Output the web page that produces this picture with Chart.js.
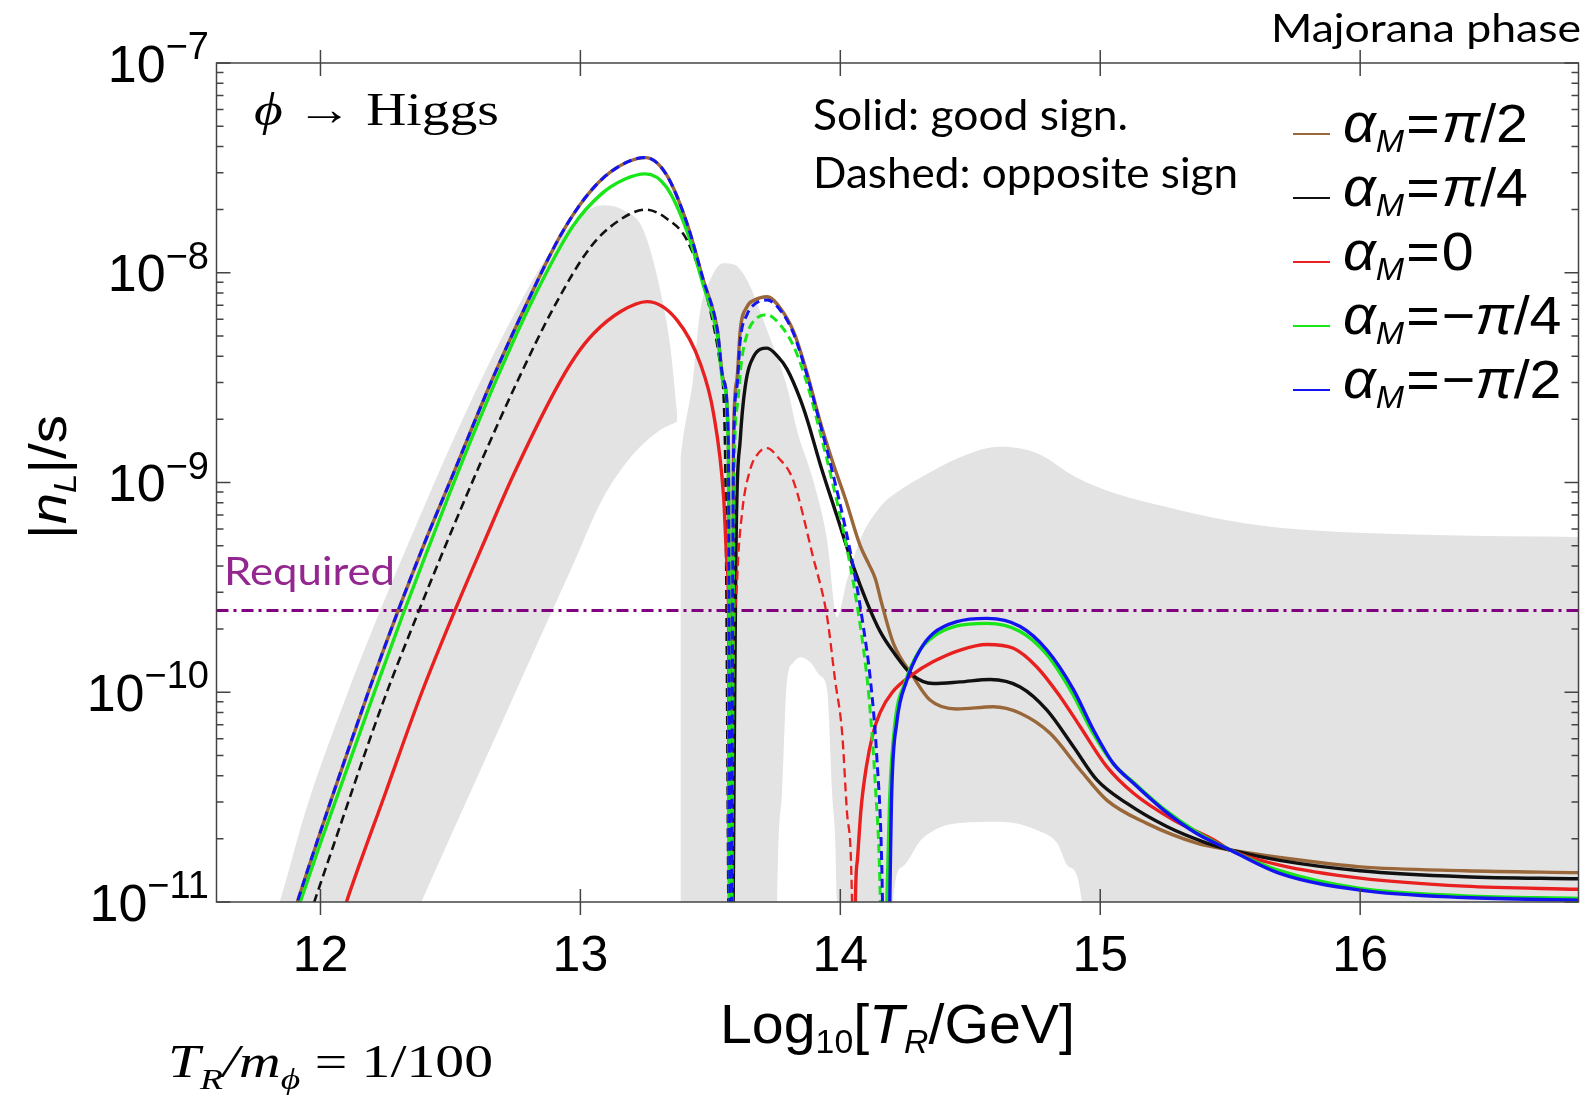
<!DOCTYPE html>
<html>
<head>
<meta charset="utf-8">
<title>|n_L|/s vs Log10[T_R/GeV]</title>
<script src="https://cdn.jsdelivr.net/npm/chart.js@4.4.1/dist/chart.umd.min.js"></script>
<style>
  html, body { margin: 0; padding: 0; background: #fff; }
  #wrap { position: relative; width: 1594px; height: 1095px; }
</style>
</head>
<body>
<div id="wrap"><canvas id="chart" width="1594" height="1095"></canvas></div>
<script>
// x = Log10[T_R/GeV], y = |n_L|/s
// negative value = opposite sign (dashed), positive = good sign (solid), 0 = zero crossing
const xTicks = [12, 13, 14, 15, 16];
const yTicks = [1e-11, 1e-10, 1e-9, 1e-8, 1e-7];
const requiredLevel = 2.45e-10;

const legendLabels = ['π/2', 'π/4', '0', '−π/4', '−π/2'];

// alpha_M = pi/2
const brownX = [11.88, 11.95, 12.05, 12.19, 12.30, 12.40, 12.50, 12.66, 12.80, 12.92,
  13.02, 13.12, 13.25, 13.33, 13.41, 13.473, 13.527, 13.55, 13.569, 13.578,
  13.589, 13.602, 13.615, 13.641, 13.67, 13.718, 13.77, 13.82, 13.87, 13.92,
  13.97, 14.02, 14.076, 14.11, 14.135, 14.16, 14.205, 14.276, 14.345, 14.448,
  14.589, 14.692, 14.807, 14.923, 15.025, 15.179, 15.371, 15.50, 15.69, 16.0,
  16.4, 16.84];
const brownY = [7.6e-12, 1.41e-11, 3.31e-11, 1.05e-10, 2.47e-10, 5.13e-10, 1.02e-9, 3.08e-9, 7.41e-9, 1.48e-8,
  2.29e-8, 3.05e-8, 3.54e-8, 2.95e-8, 1.72e-8, 9.23e-9, 5.33e-9, 3.08e-9, 1.60e-9, 0,
  1.60e-9, 3.08e-9, 5.33e-9, 6.89e-9, 7.41e-9, 7.69e-9, 6.76e-9, 5.25e-9, 3.39e-9, 2.0e-9,
  1.26e-9, 8.32e-10, 5.01e-10, 4.07e-10, 3.47e-10, 2.63e-10, 1.70e-10, 1.21e-10, 9.18e-11, 8.32e-11,
  8.53e-11, 7.94e-11, 6.37e-11, 4.26e-11, 3.06e-11, 2.37e-11, 1.91e-11, 1.77e-11, 1.63e-11, 1.47e-11,
  1.41e-11, 1.38e-11];

// alpha_M = pi/4
const blackX = [11.94, 11.976, 12.05, 12.24, 12.38, 12.49, 12.622, 12.76, 12.90, 13.04,
  13.15, 13.25, 13.33, 13.41, 13.487, 13.537, 13.556, 13.578, 13.60, 13.615,
  13.634, 13.666, 13.718, 13.76, 13.795, 13.845, 13.875, 13.922, 13.987, 14.05,
  14.102, 14.153, 14.205, 14.276, 14.358, 14.461, 14.576, 14.692, 14.795, 14.897,
  14.987, 15.103, 15.256, 15.41, 15.50, 15.69, 16.0, 16.4, 16.84];
const blackY = [-7.4e-12, -1.0e-11, -1.86e-11, -8.9e-11, -2.47e-10, -5.32e-10, -1.29e-9, -3.08e-9, -6.92e-9, -1.33e-8,
  -1.78e-8, -2.0e-8, -1.82e-8, -1.43e-8, -7.66e-9, -3.72e-9, -1.6e-9, 0, 6.3e-10, 1.6e-9,
  2.86e-9, 3.98e-9, 4.37e-9, 3.98e-9, 3.47e-9, 2.51e-9, 1.95e-9, 1.23e-9, 6.92e-10, 3.98e-10,
  2.69e-10, 1.95e-10, 1.55e-10, 1.21e-10, 1.10e-10, 1.12e-10, 1.15e-10, 1.06e-10, 8.22e-11, 5.5e-11,
  3.82e-11, 2.95e-11, 2.29e-11, 1.91e-11, 1.77e-11, 1.58e-11, 1.41e-11, 1.32e-11, 1.29e-11];

// alpha_M = 0
const redX = [12.07, 12.10, 12.25, 12.39, 12.518, 12.633, 12.74, 12.903, 12.98, 13.051,
  13.155, 13.256, 13.371, 13.461, 13.512, 13.551, 13.564, 13.57, 13.576, 13.584,
  13.603, 13.622, 13.653, 13.685, 13.718, 13.76, 13.818, 13.895, 13.949, 13.98,
  14.007, 14.026, 14.045, 14.052, 14.058, 14.066, 14.08, 14.10, 14.125, 14.153,
  14.20, 14.276, 14.358, 14.461, 14.564, 14.666, 14.756, 14.846, 14.923, 15.025,
  15.128, 15.282, 15.436, 15.50, 15.69, 16.0, 16.4, 16.84];
const redY = [7.6e-12, 1.0e-11, 3.31e-11, 1.0e-10, 2.47e-10, 5.32e-10, 1.07e-9, 2.75e-9, 3.98e-9, 5.13e-9,
  6.53e-9, 7.28e-9, 5.96e-9, 3.70e-9, 2.14e-9, 8.57e-10, 4.12e-10, 2.47e-10, 0, -5.0e-11,
  -3.43e-10, -7.16e-10, -1.15e-9, -1.38e-9, -1.46e-9, -1.32e-9, -1.03e-9, -4.42e-10, -2.29e-10, -1.14e-10,
  -6.4e-11, -2.65e-11, -1.0e-11, 0, 1.0e-11, 1.6e-11, 2.8e-11, 4.4e-11, 6.3e-11, 8.0e-11,
  1.0e-10, 1.21e-10, 1.40e-10, 1.59e-10, 1.69e-10, 1.62e-10, 1.32e-10, 9.53e-11, 6.85e-11, 4.42e-11,
  3.30e-11, 2.46e-11, 1.98e-11, 1.77e-11, 1.50e-11, 1.30e-11, 1.19e-11, 1.15e-11];

// alpha_M = -pi/4
const greenX = [11.90, 11.922, 12.0, 12.21, 12.32, 12.43, 12.52, 12.68, 12.82, 12.97,
  13.08, 13.17, 13.25, 13.33, 13.41, 13.473, 13.527, 13.55, 13.569, 13.578,
  13.592, 13.605, 13.62, 13.645, 13.675, 13.718, 13.77, 13.82, 13.87, 13.92,
  13.97, 14.02, 14.06, 14.09, 14.11, 14.135, 14.153, 14.166, 14.179, 14.19,
  14.21, 14.25, 14.30, 14.358, 14.448, 14.564, 14.692, 14.795, 14.89, 14.97,
  15.05, 15.128, 15.243, 15.371, 15.50, 15.69, 16.0, 16.4, 16.84];
const greenY = [8.3e-12, 1.0e-11, 1.91e-11, 1.02e-10, 2.40e-10, 5.43e-10, 1.05e-9, 3.16e-9, 7.59e-9, 1.66e-8,
  2.37e-8, 2.79e-8, 2.96e-8, 2.57e-8, 1.58e-8, 8.71e-9, 5.01e-9, 2.95e-9, 1.58e-9, 0,
  -1.12e-9, -2.40e-9, -3.80e-9, -5.25e-9, -6.03e-9, -6.30e-9, -5.62e-9, -4.47e-9, -3.02e-9, -1.78e-9,
  -1.0e-9, -5.25e-10, -2.82e-10, -1.58e-10, -9.55e-11, -3.55e-11, -1.12e-11, 0, 1.0e-11, 3.16e-11,
  7.08e-11, 1.12e-10, 1.55e-10, 1.84e-10, 2.07e-10, 2.13e-10, 1.95e-10, 1.51e-10, 1.0e-10, 6.46e-11,
  4.57e-11, 3.72e-11, 2.79e-11, 2.16e-11, 1.77e-11, 1.41e-11, 1.16e-11, 1.07e-11, 1.04e-11];

// alpha_M = -pi/2
const blueX = [11.88, 11.95, 12.05, 12.19, 12.30, 12.40, 12.50, 12.66, 12.80, 12.92,
  13.02, 13.12, 13.25, 13.33, 13.41, 13.473, 13.527, 13.55, 13.569, 13.578,
  13.589, 13.602, 13.615, 13.641, 13.67, 13.718, 13.77, 13.82, 13.87, 13.92,
  13.97, 14.02, 14.06, 14.09, 14.115, 14.14, 14.16, 14.175, 14.198, 14.217,
  14.256, 14.307, 14.358, 14.448, 14.564, 14.692, 14.795, 14.897, 14.974, 15.05,
  15.128, 15.243, 15.371, 15.50, 15.69, 16.0, 16.4, 16.84];
const blueY = [-7.6e-12, -1.41e-11, -3.31e-11, -1.05e-10, -2.47e-10, -5.13e-10, -1.02e-9, -3.08e-9, -7.41e-9, -1.48e-8,
  -2.29e-8, -3.05e-8, -3.54e-8, -2.95e-8, -1.72e-8, -9.23e-9, -5.33e-9, -3.08e-9, -1.60e-9, 0,
  -1.41e-9, -2.82e-9, -4.79e-9, -6.31e-9, -7.08e-9, -7.41e-9, -6.61e-9, -5.13e-9, -3.31e-9, -1.95e-9,
  -1.12e-9, -6.03e-10, -3.39e-10, -2.0e-10, -1.17e-10, -5.0e-11, -1.41e-11, 0, 3.42e-11, 7.13e-11,
  1.14e-10, 1.59e-10, 1.91e-10, 2.17e-10, 2.25e-10, 2.06e-10, 1.59e-10, 1.03e-10, 6.61e-11, 4.58e-11,
  3.68e-11, 2.75e-11, 2.12e-11, 1.77e-11, 1.37e-11, 1.14e-11, 1.05e-11, 1.02e-11];

// grey band, left lobe
const bandAUpperX = [11.80, 11.843, 11.947, 12.093, 12.243, 12.345, 12.499, 12.626, 12.757, 12.884,
  13.011, 13.088, 13.165, 13.242, 13.307, 13.346, 13.372];
const bandAUpperY = [7e-12, 1.0e-11, 2.82e-11, 9.12e-11, 2.69e-10, 5.37e-10, 1.48e-9, 3.24e-9, 6.76e-9, 1.26e-8,
  1.91e-8, 2.10e-8, 1.99e-8, 1.60e-8, 8.28e-9, 4.43e-9, 2.14e-9];
const bandALowerX = [11.80, 12.24, 12.388, 12.534, 12.680, 12.830, 12.976, 13.076, 13.180, 13.307, 13.372];
const bandALowerY = [1e-12, 4e-12, 1.0e-11, 2.54e-11, 6.4e-11, 1.66e-10, 4.17e-10, 7.94e-10, 1.26e-9, 1.78e-9, 1.95e-9];

// grey band, right part
const bandBUpperX = [13.385, 13.394, 13.433, 13.46, 13.499, 13.549, 13.595, 13.641, 13.718, 13.795,
  13.833, 13.895, 13.949, 13.987, 14.026, 14.076, 14.153, 14.230, 14.311, 14.461,
  14.611, 14.757, 14.907, 15.053, 15.303, 15.549, 15.795, 16.291, 16.84];
const bandBUpperY = [1.3e-9, 1.6e-9, 3.08e-9, 6.43e-9, 9.23e-9, 1.11e-8, 1.09e-8, 9.23e-9, 5.33e-9, 2.85e-9,
  1.78e-9, 1.03e-9, 5.32e-10, 2.28e-10, 3.43e-10, 5.32e-10, 7.64e-10, 9.2e-10, 1.06e-9, 1.32e-9,
  1.48e-9, 1.38e-9, 1.06e-9, 8.9e-10, 7.4e-10, 6.41e-10, 5.94e-10, 5.62e-10, 5.50e-10];
const bandBLowerX = [13.385, 13.75, 13.757, 13.776, 13.795, 13.818, 13.845, 13.884, 13.922, 13.949,
  13.968, 13.987, 13.995, 14.195, 14.203, 14.238, 14.311, 14.361, 14.411, 14.461,
  14.611, 14.757, 14.834, 14.880, 14.930, 14.94, 16.84];
const bandBLowerY = [1e-12, 1e-12, 1.0e-11, 3.42e-11, 1.14e-10, 1.38e-10, 1.47e-10, 1.39e-10, 1.2e-10, 1.03e-10,
  3.42e-11, 1.0e-11, 1e-12, 1e-12, 1.0e-11, 1.47e-11, 1.98e-11, 2.2e-11, 2.33e-11, 2.38e-11,
  2.41e-11, 2.2e-11, 1.91e-11, 1.47e-11, 1.0e-11, 1e-12, 1e-12];

const FLOOR = 1e-12; // zero crossings drawn below the axis
const GREY = '#e3e3e3';
const COLORS = ['#99673a', '#111111', '#e8201f', '#19e619', '#1414f0'];

const SANS = '"Liberation Sans", Arial, sans-serif';
const SERIF = '"Liberation Serif", "Times New Roman", serif';
const CALI = 'Lato, "Open Sans", sans-serif';

function toPoints(xs, ys) {
    return xs.map((x, i) => ({ x: x, y: Math.abs(ys[i]) || FLOOR }));
}

function band(xs, ys, fill) {
    return {
        data: toPoints(xs, ys),
        borderColor: 'rgba(0,0,0,0)',
        borderWidth: 0,
        backgroundColor: GREY,
        pointRadius: 0,
        fill: fill,
        cubicInterpolationMode: 'monotone',
        order: 20
    };
}

function curve(label, xs, ys, color, dashWidth, order) {
    const dashed = c => ys[c.p0DataIndex] < 0 || ys[c.p1DataIndex] < 0;
    return {
        label: label,
        data: toPoints(xs, ys),
        borderColor: color,
        borderWidth: 3.4,
        pointRadius: 0,
        fill: false,
        cubicInterpolationMode: 'monotone',
        order: order,
        segment: {
            borderDash: c => dashed(c) ? [9, 5] : undefined,
            borderWidth: c => dashed(c) ? dashWidth : undefined
        }
    };
}

// draw a run of text pieces, optionally squeezed to a given width
function drawParts(ctx, x, y, parts, width) {
    let total = 0;
    parts.forEach(p => {
        ctx.font = p.font;
        p.w = ctx.measureText(p.text).width + (p.gap || 0);
        total += p.w;
    });
    const s = width ? width / total : 1;
    ctx.save();
    ctx.translate(x, y);
    ctx.scale(s, 1);
    let cx = 0;
    parts.forEach(p => {
        ctx.font = p.font;
        ctx.fillText(p.text, cx, p.dy || 0);
        cx += p.w;
    });
    ctx.restore();
    return total * s;
}

function legendParts(label) {
    const parts = [
        { text: 'α', font: 'italic 54px ' + SANS },
        { text: 'M', font: 'italic 32px ' + SANS, dy: 10, gap: 2 },
        { text: '=', font: '54px ' + SANS, gap: 2 }
    ];
    label.split(/(π)/).forEach(t => {
        if (!t) return;
        parts.push({ text: t, font: (t === 'π' ? 'italic ' : '') + '54px ' + SANS });
    });
    return parts;
}

const framePlugin = {
    id: 'frame',
    afterDatasetsDraw(chart) {
        const { ctx, chartArea: a, scales: { x, y } } = chart;
        ctx.save();
        ctx.strokeStyle = '#444';
        ctx.lineWidth = 1.5;
        ctx.strokeRect(a.left, a.top, a.right - a.left, a.bottom - a.top);
        ctx.beginPath();
        xTicks.forEach(v => {
            const px = x.getPixelForValue(v);
            ctx.moveTo(px, a.bottom - 13); ctx.lineTo(px, a.bottom + 13);
            ctx.moveTo(px, a.top - 13); ctx.lineTo(px, a.top + 13);
        });
        for (let e = -11; e <= -7; e++) {
            for (let m = 1; m < 10; m++) {
                if (e === -7 && m > 1) break;
                const py = y.getPixelForValue(m * Math.pow(10, e));
                const len = m === 1 ? 14 : 7;
                ctx.moveTo(a.left, py); ctx.lineTo(a.left + len, py);
                ctx.moveTo(a.right, py); ctx.lineTo(a.right - len, py);
            }
        }
        ctx.stroke();
        ctx.restore();
    },
    afterDraw(chart) {
        const { ctx, scales: { y } } = chart;
        ctx.save();
        ctx.fillStyle = '#000';
        ctx.textBaseline = 'alphabetic';
        ctx.textAlign = 'left';

        // y tick labels 10^-n
        yTicks.forEach(v => {
            const py = y.getPixelForValue(v);
            const exp = '−' + Math.round(-Math.log10(v));
            ctx.font = '38px ' + SANS;
            const we = ctx.measureText(exp).width;
            ctx.fillText(exp, 209 - we, py - 4);
            ctx.font = '52px ' + SANS;
            const wb = ctx.measureText('10').width;
            ctx.fillText('10', 209 - we - wb, py + 18.5);
        });

        // y axis title
        ctx.save();
        ctx.translate(66, 477);
        ctx.rotate(-Math.PI / 2);
        drawParts(ctx, -62, 0, [
            { text: '|', font: '52px ' + SANS },
            { text: 'n', font: 'italic 52px ' + SANS },
            { text: 'L', font: 'italic 32px ' + SANS, dy: 10 },
            { text: '|/s', font: '52px ' + SANS }
        ], 124);
        ctx.restore();

        // x axis title
        drawParts(ctx, 720, 1043, [
            { text: 'Log', font: '56px ' + SANS },
            { text: '10', font: '33px ' + SANS, dy: 10 },
            { text: '[', font: '56px ' + SANS },
            { text: 'T', font: 'italic 56px ' + SANS },
            { text: 'R', font: 'italic 33px ' + SANS, dy: 10 },
            { text: '/GeV]', font: '56px ' + SANS }
        ], 355);

        // annotations
        drawParts(ctx, 254, 125, [
            { text: 'ϕ', font: 'italic 46px ' + SERIF },
            { text: ' → ', font: '46px ' + SERIF },
            { text: 'Higgs', font: '46px ' + SERIF }
        ], 245);
        drawParts(ctx, 168, 1077, [
            { text: 'T', font: 'italic 46px ' + SERIF },
            { text: 'R', font: 'italic 30px ' + SERIF, dy: 12 },
            { text: '/m', font: 'italic 46px ' + SERIF },
            { text: 'ϕ', font: 'italic 30px ' + SERIF, dy: 12 },
            { text: ' = 1/100', font: '46px ' + SERIF }
        ], 325);
        drawParts(ctx, 813, 130, [{ text: 'Solid: good sign.', font: '42px ' + CALI }], 315);
        drawParts(ctx, 813, 188, [{ text: 'Dashed: opposite sign', font: '42px ' + CALI }], 425);
        drawParts(ctx, 1271, 42, [{ text: 'Majorana phase', font: '39px ' + CALI }], 310);
        ctx.fillStyle = '#93278f';
        drawParts(ctx, 224, 585, [{ text: 'Required', font: '39px ' + CALI }], 171);

        // legend
        ctx.fillStyle = '#000';
        let w0 = 0;
        legendParts(legendLabels[0]).forEach(p => { ctx.font = p.font; w0 += ctx.measureText(p.text).width + (p.gap || 0); });
        const s = 185 / w0;
        legendLabels.forEach((lab, i) => {
            const ly = 134 + 64 * i;
            ctx.strokeStyle = COLORS[i];
            ctx.lineWidth = 2;
            ctx.beginPath();
            ctx.moveTo(1293, ly); ctx.lineTo(1330, ly);
            ctx.stroke();
            const parts = legendParts(lab);
            let w = 0;
            parts.forEach(p => { ctx.font = p.font; w += ctx.measureText(p.text).width + (p.gap || 0); });
            drawParts(ctx, 1343, ly + 8, parts, w * s);
        });
        ctx.restore();
    }
};

new Chart(document.getElementById('chart'), {
    type: 'line',
    data: {
        datasets: [
            band(bandAUpperX, bandAUpperY, '+1'),
            band(bandALowerX, bandALowerY, false),
            band(bandBUpperX, bandBUpperY, '+1'),
            band(bandBLowerX, bandBLowerY, false),
            {
                label: 'Required',
                data: [{ x: 11.6, y: requiredLevel }, { x: 16.84, y: requiredLevel }],
                borderColor: '#800080',
                borderWidth: 3,
                borderDash: [12, 5, 3, 5],
                pointRadius: 0,
                fill: false,
                order: 6
            },
            curve('αM=π/2', brownX, brownY, COLORS[0], 3, 5),
            curve('αM=π/4', blackX, blackY, COLORS[1], 2.6, 4),
            curve('αM=0', redX, redY, COLORS[2], 2.3, 3),
            curve('αM=−π/4', greenX, greenY, COLORS[3], 3, 2),
            curve('αM=−π/2', blueX, blueY, COLORS[4], 3, 1)
        ]
    },
    options: {
        responsive: false,
        animation: false,
        devicePixelRatio: 1,
        layout: { padding: { top: 63, right: 15.5, left: 0, bottom: 0 } },
        plugins: { legend: { display: false }, tooltip: { enabled: false } },
        scales: {
            x: {
                type: 'linear',
                min: 11.6,
                max: 16.84,
                grid: { display: false },
                border: { display: false },
                afterBuildTicks: s => { s.ticks = xTicks.map(v => ({ value: v })); },
                afterFit: s => { s.height = 193; },
                ticks: {
                    color: '#000',
                    padding: 17,
                    maxRotation: 0,
                    autoSkip: false,
                    font: { family: 'Liberation Sans', size: 50 }
                }
            },
            y: {
                type: 'logarithmic',
                min: 1e-11,
                max: 1e-7,
                grid: { display: false },
                border: { display: false },
                ticks: { display: false },
                afterFit: s => { s.width = 216.5; }
            }
        }
    },
    plugins: [framePlugin]
});
</script>
</body>
</html>
